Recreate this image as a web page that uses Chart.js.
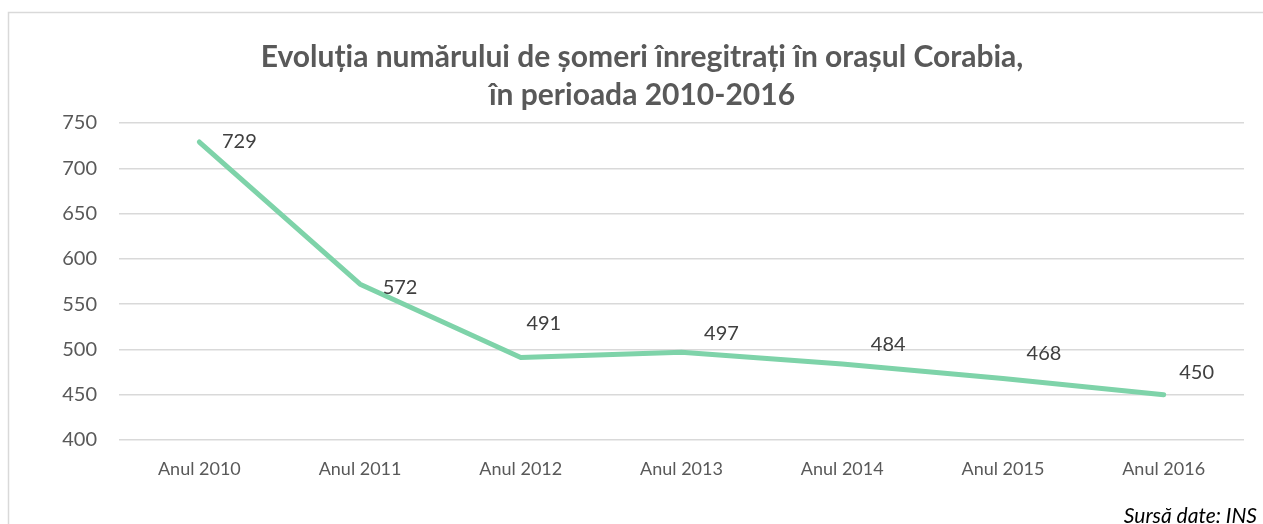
<!DOCTYPE html>
<html>
<head>
<meta charset="utf-8">
<script src="https://cdn.jsdelivr.net/npm/chart.js@4.4.1/dist/chart.umd.min.js"></script>
<style>
  html, body { margin: 0; padding: 0; background: #ffffff; }
  #wrap { width: 1263px; height: 524px; position: relative; }
</style>
</head>
<body>
<div id="wrap"><canvas id="c" width="1263" height="524"></canvas></div>
<script>
const categories = ['Anul 2010', 'Anul 2011', 'Anul 2012', 'Anul 2013', 'Anul 2014', 'Anul 2015', 'Anul 2016'];
const unemployed = [729, 572, 491, 497, 484, 468, 450];
const yTicks = [400, 450, 500, 550, 600, 650, 700, 750];
const titleLines = ['Evoluția numărului de șomeri înregitrați în orașul Corabia,', 'în perioada 2010-2016'];
const sourceText = 'Sursă date: INS';

const FONT = 'Lato, "Open Sans", sans-serif';

const framePlugin = {
  id: 'frame',
  beforeDraw(chart) {
    const ctx = chart.ctx;
    ctx.save();
    ctx.fillStyle = '#ffffff';
    ctx.fillRect(0, 0, chart.width, chart.height);
    ctx.strokeStyle = '#d9d9d9';
    ctx.lineWidth = 1.5;
    ctx.beginPath();
    ctx.moveTo(8.5, chart.height);
    ctx.lineTo(8.5, 12.5);
    ctx.lineTo(chart.width, 12.5);
    ctx.stroke();
    ctx.restore();
  },
  afterDraw(chart) {
    const ctx = chart.ctx;
    ctx.save();
    ctx.font = 'italic 21px ' + FONT;
    ctx.fillStyle = '#000000';
    ctx.textAlign = 'right';
    ctx.textBaseline = 'alphabetic';
    ctx.fillText(sourceText, 1257, 523);
    ctx.restore();
  }
};

const labelPlugin = {
  id: 'pointLabels',
  afterDatasetsDraw(chart, args, opts) {
    const ctx = chart.ctx;
    const meta = chart.getDatasetMeta(0);
    const ds = chart.data.datasets[0];
    ctx.save();
    ctx.font = '20px ' + FONT;
    ctx.fillStyle = '#404040';
    ctx.textAlign = 'center';
    ctx.textBaseline = 'middle';
    meta.data.forEach((pt, i) => {
      const off = opts.offsets[i] || [0, 0];
      ctx.fillText(String(ds.data[i]), pt.x + off[0], pt.y + off[1]);
    });
    ctx.restore();
  }
};

new Chart(document.getElementById('c'), {
  type: 'line',
  data: {
    labels: categories,
    datasets: [{
      data: unemployed,
      borderColor: '#7ed3a9',
      borderWidth: 5,
      borderCapStyle: 'round',
      borderJoinStyle: 'round',
      pointRadius: 0,
      tension: 0,
      fill: false
    }]
  },
  options: {
    responsive: false,
    animation: false,
    layout: { padding: { left: 40, right: 19, top: 0, bottom: 0 } },
    plugins: {
      legend: { display: false },
      tooltip: { enabled: false },
      title: {
        display: true,
        text: titleLines,
        color: '#595959',
        font: { family: FONT, size: 30, weight: 'bold', lineHeight: 38 / 30 },
        padding: { top: 38, bottom: 9 }
      },
      pointLabels: {
        offsets: [[40, 0], [40, 3], [23, -34], [40, -19], [46, -19], [41, -25], [33, -22]]
      }
    },
    scales: {
      x: {
        offset: true,
        grid: { display: false, drawTicks: false },
        border: { display: false },
        ticks: { color: '#595959', font: { family: FONT, size: 18 }, padding: 18, maxRotation: 0 },
        afterFit(scale) { scale.height = 84; }
      },
      y: {
        min: 400,
        max: 750,
        afterBuildTicks(scale) { scale.ticks = yTicks.map(v => ({ value: v })); },
        grid: { color: '#d9d9d9', lineWidth: 1.5, drawTicks: false },
        border: { display: false },
        ticks: { color: '#595959', font: { family: FONT, size: 20 }, padding: 22 },
        afterFit(scale) { scale.width = 79; }
      }
    }
  },
  plugins: [framePlugin, labelPlugin]
});
</script>
</body>
</html>
